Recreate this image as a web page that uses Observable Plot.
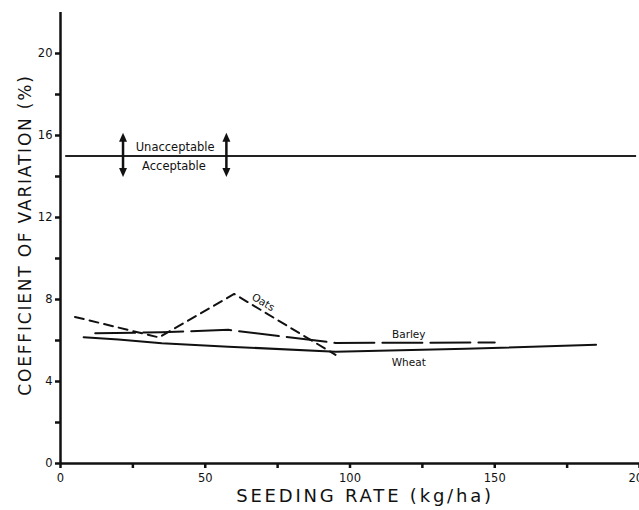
<!DOCTYPE html>
<html>
<head>
<meta charset="utf-8">
<script src="https://cdn.jsdelivr.net/npm/d3@7"></script>
<script src="https://cdn.jsdelivr.net/npm/@observablehq/plot@0.6"></script>
<style>
  html, body { margin: 0; padding: 0; background: #fff; }
  svg { font-family: "DejaVu Sans", sans-serif; display: block; }
</style>
</head>
<body>
<div id="chart"></div>
<script>
// Data
const wheatX = [8, 20, 35, 58, 95, 140, 185];
const wheatY = [6.16, 6.05, 5.87, 5.7, 5.45, 5.6, 5.79];
const barleyX = [12, 35, 58, 95, 150];
const barleyY = [6.35, 6.4, 6.52, 5.88, 5.9];
const oatsX = [5, 34, 60, 95];
const oatsY = [7.15, 6.15, 8.27, 5.3];
const threshold = 15;
const arrowX = [21.6, 57.3];
const xTicks = [0, 50, 100, 150, 200];
const xMinor = [25, 75, 125, 175];
const yTicks = [0, 4, 8, 12, 16, 20];
const yMinor = [2, 6, 10, 14, 18];
const xTitle = "SEEDING RATE (kg/ha)";
const yTitle = "COEFFICIENT OF VARIATION (%)";

const toRows = (xs, ys) => xs.map((x, i) => ({x, y: ys[i]}));
const wheat = toRows(wheatX, wheatY);
const barley = toRows(barleyX, barleyY);
const oats = toRows(oatsX, oatsY);

const headUp = {draw(ctx) { ctx.moveTo(0, 0); ctx.lineTo(-4, 9); ctx.lineTo(4, 9); ctx.closePath(); }};
const headDown = {draw(ctx) { ctx.moveTo(0, 0); ctx.lineTo(-4, -9); ctx.lineTo(4, -9); ctx.closePath(); }};

const chart = Plot.plot({
  width: 639,
  height: 510,
  marginLeft: 60,
  marginRight: 0,
  marginTop: 12,
  marginBottom: 47,
  style: {fontFamily: "DejaVu Sans, sans-serif", color: "#111", background: "#fff"},
  x: {domain: [0, 200], label: null},
  y: {domain: [0, 22], label: null},
  marks: [
    Plot.ruleY([threshold], {x1: 1.8, x2: 199, stroke: "#222", strokeWidth: 1.8}),
    Plot.ruleX(arrowX, {y1: 14.3, y2: 15.85, stroke: "#111", strokeWidth: 2.5}),
    Plot.dot(arrowX, {x: d => d, y: 16.14, symbol: headUp, fill: "#111", stroke: "none", r: 4}),
    Plot.dot(arrowX, {x: d => d, y: 13.98, symbol: headDown, fill: "#111", stroke: "none", r: 4}),
    Plot.text(["Unacceptable"], {x: 39.6, y: 15.41, fontSize: 11.5, fill: "#111"}),
    Plot.text(["Acceptable"], {x: 39.2, y: 14.52, fontSize: 11.5, fill: "#111"}),
    Plot.line(oats, {x: "x", y: "y", stroke: "#111", strokeWidth: 2, strokeDasharray: "9,6"}),
    Plot.line(barley, {x: "x", y: "y", stroke: "#111", strokeWidth: 2, strokeDasharray: "40,8"}),
    Plot.line(wheat, {x: "x", y: "y", stroke: "#111", strokeWidth: 2}),
    Plot.text(["Oats"], {x: 70, y: 7.86, rotate: 31, fontSize: 10.5, fill: "#111"}),
    Plot.text(["Barley"], {x: 120.3, y: 6.28, fontSize: 10.5, fill: "#111"}),
    Plot.text(["Wheat"], {x: 120.3, y: 4.9, fontSize: 10.5, fill: "#111"}),
    Plot.ruleX([0], {y1: 0, y2: 22, stroke: "#111", strokeWidth: 2.5}),
    Plot.ruleY([0], {x1: 0, x2: 200, stroke: "#111", strokeWidth: 2.5}),
    Plot.axisX({ticks: xTicks, tickSize: 5, tickPadding: 5, fontSize: 11.5, strokeWidth: 2.5, label: null}),
    Plot.axisX({ticks: xMinor, tickSize: 5, tickFormat: () => "", strokeWidth: 2.5, label: null}),
    Plot.axisY({ticks: yTicks, tickSize: 5, tickPadding: 3, fontSize: 11.5, strokeWidth: 2.5, label: null}),
    Plot.axisY({ticks: yMinor, tickSize: 5, tickFormat: () => "", strokeWidth: 2.5, label: null}),
    Plot.text([xTitle], {frameAnchor: "bottom", dy: 38, dx: 15, fontSize: 18, fill: "#111", textAnchor: "middle"}),
    Plot.text([yTitle], {frameAnchor: "left", dx: -35, dy: -3, rotate: -90, fontSize: 17, fill: "#111", textAnchor: "middle"})
  ]
});
// widen the letter spacing of the two axis titles, as in the lettered original
d3.select(chart).selectAll("text").each(function() {
  const t = this.textContent;
  if (t === xTitle) this.setAttribute("letter-spacing", "2.8");
  if (t === yTitle) this.setAttribute("letter-spacing", "1.8");
});
document.getElementById("chart").appendChild(chart);
</script>
</body>
</html>
